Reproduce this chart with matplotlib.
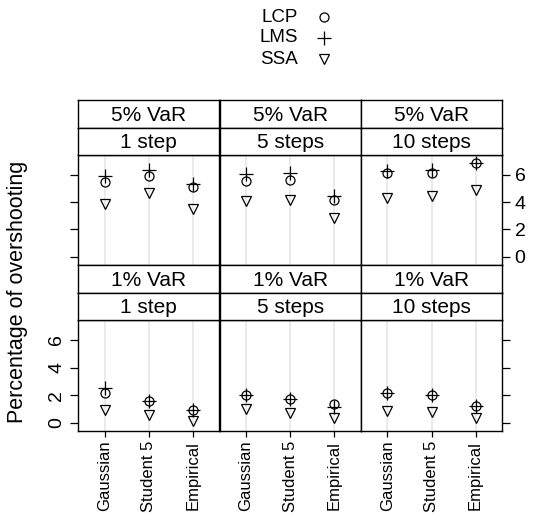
import matplotlib
matplotlib.use("Agg")
import matplotlib.pyplot as plt

plt.rcParams['font.family'] = ['Liberation Sans', 'DejaVu Sans']

cats = ["Gaussian", "Student 5", "Empirical"]
horizons = ["1 step", "5 steps", "10 steps"]
levels = ["5% VaR", "1% VaR"]
methods = ["LCP", "LMS", "SSA"]

# values[horizon][category]
lcp_5 = [[5.48, 5.90, 5.11], [5.56, 5.65, 4.13], [6.10, 6.15, 6.84]]
lms_5 = [[5.90, 6.35, 5.31], [6.05, 6.10, 4.43], [6.30, 6.35, 6.84]]
ssa_5 = [[3.88, 4.67, 3.51], [4.08, 4.13, 2.83], [4.30, 4.43, 4.87]]
lcp_1 = [[2.17, 1.57, 0.90], [2.00, 1.70, 1.33], [2.13, 1.98, 1.21]]
lms_1 = [[2.54, 1.57, 0.90], [2.00, 1.70, 1.14], [2.13, 1.98, 1.21]]
ssa_1 = [[0.90, 0.56, 0.12], [0.97, 0.68, 0.32], [0.85, 0.78, 0.32]]

data = {
    "5% VaR": (lcp_5, lms_5, ssa_5),
    "1% VaR": (lcp_1, lms_1, ssa_1),
}

W, H = 535, 521
fig = plt.figure(figsize=(W / 100, H / 100), dpi=100)

def fx(px):
    return px / W

def fy(py):
    return 1 - py / H

col_edges = [78, 219.5, 361, 502]
rows = [  # (strip top, strip mid, panel top, panel bottom)
    (100, 127.5, 155, 265),
    (265, 292.5, 320, 431),
]
yticks = [0, 2, 4, 6]
ylim = (-0.6, 7.45)
xpos = [1, 2, 3]

FS_STRIP = 15
FS_TICK = 14
FS_XLAB = 12

marker_styles = [
    dict(marker='o', markersize=6.5, markerfacecolor='none', markeredgecolor='black', markeredgewidth=0.9),
    dict(marker='+', markersize=10, markeredgecolor='black', markeredgewidth=0.9),
    dict(marker='v', markersize=7.5, markerfacecolor='none', markeredgecolor='black', markeredgewidth=0.9),
]

for r, lvl in enumerate(levels):
    st, sm, pt, pb = rows[r]
    for c, hz in enumerate(horizons):
        x0, x1 = col_edges[c], col_edges[c + 1]
        ax = fig.add_axes([fx(x0), fy(pb), fx(x1) - fx(x0), fy(pt) - fy(pb)])
        ax.set_xlim(0.4, 3.6)
        ax.set_ylim(*ylim)
        for xv in xpos:
            ax.axvline(xv, color='#e6e6e6', lw=1.2, zorder=0)
        series = data[lvl]
        for s, ms in zip(series, marker_styles):
            ax.plot(xpos, s[c], linestyle='none', zorder=3, **ms)
        for sp in ax.spines.values():
            sp.set_linewidth(1.0)
        ax.tick_params(axis='both', direction='out', length=6, width=0.9,
                       labelsize=FS_TICK, pad=3)
        ax.set_yticks(yticks)
        if r == 1:
            ax.set_xticks(xpos)
            ax.set_xticklabels(cats, rotation=90, fontsize=FS_XLAB)
            ax.tick_params(axis='x', length=4, pad=3)
        else:
            ax.set_xticks([])
        if r == 0:
            if c == 0:
                ax.tick_params(axis='y', left=True, right=False, labelleft=False)
            elif c == 2:
                ax.yaxis.tick_right()
                ax.tick_params(axis='y', labelright=True, labelleft=False)
            else:
                ax.tick_params(axis='y', left=False, labelleft=False)
        else:
            if c == 0:
                ax.tick_params(axis='y', left=True, labelleft=True)
                for lab in ax.get_yticklabels():
                    lab.set_rotation(90)
                    lab.set_va('center')
            elif c == 2:
                ax.yaxis.tick_right()
                ax.tick_params(axis='y', labelright=False, labelleft=False)
            else:
                ax.tick_params(axis='y', left=False, labelleft=False)
        for (a, b, txt) in [(st, sm, lvl), (sm, pt, hz)]:
            sax = fig.add_axes([fx(x0), fy(b), fx(x1) - fx(x0), fy(a) - fy(b)])
            sax.set_xticks([])
            sax.set_yticks([])
            sax.set_facecolor('white')
            for sp in sax.spines.values():
                sp.set_linewidth(1.0)
            sax.text(0.5, 0.45, txt, ha='center', va='center', fontsize=FS_STRIP,
                     transform=sax.transAxes)

fig.text(fx(18), fy(292), "Percentage of overshooting", rotation=90,
         ha='center', va='center', fontsize=15.5)

key_y = [17, 38, 59]
for m, ky, ms in zip(methods, key_y, marker_styles):
    fig.text(fx(298), fy(ky), m, ha='right', va='center', fontsize=13.5)
    fig.add_artist(matplotlib.lines.Line2D([fx(324)], [fy(ky)], linestyle='none',
                                           transform=fig.transFigure, **ms))

fig.savefig("out.png", dpi=100)
